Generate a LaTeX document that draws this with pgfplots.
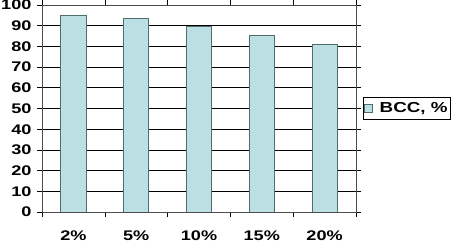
\documentclass[border=0pt]{standalone}
\usepackage{pgfplots}
\pgfplotsset{compat=1.18}
\usepackage{fontspec}
\setmainfont{Liberation Sans}
\newfontfamily\widefont[FakeStretch=1.3]{Liberation Sans}
\definecolor{barfill}{RGB}{188,223,228}
\definecolor{baredge}{RGB}{80,110,110}
\begin{document}
\begin{tikzpicture}
\useasboundingbox (0,0) rectangle (453bp,242bp);
\begin{axis}[
  at={(42bp,30bp)}, anchor=south west,
  scale only axis, width=314bp, height=207bp,
  xmin=-0.5, xmax=4.5, ymin=0, ymax=100,
  xtick={0,1,2,3,4},
  xticklabels={2\%,5\%,10\%,15\%,20\%},
  minor xtick={-0.5,0.5,1.5,2.5,3.5,4.5},
  ytick={0,10,...,100},
  ymajorgrids, grid style={black, line width=0.6pt},
  major x tick style={draw=none},
  minor tick length=5bp,
  major tick length=5bp,
  tick align=outside,
  x tick style={black, line width=0.6pt},
  y tick style={black, line width=0.6pt},
  axis line style={black!70, line width=0.6pt},
  tick label style={font=\widefont\fontsize{14}{15}\selectfont\bfseries},
  /pgf/number format/assume math mode=true,
  xticklabel style={yshift=-10bp},
  yticklabel style={xshift=-2bp},
  legend style={at={(1.022,0.502)}, anchor=west, draw=black, line width=0.6pt,
    font=\widefont\fontsize{14.5}{15}\selectfont\bfseries, inner xsep=1bp, inner ysep=3bp},
  legend image code/.code={\draw[fill=barfill,draw=baredge,line width=0.5pt] (2bp,-4bp) rectangle (10bp,4bp);},
]
\addplot[ybar, bar width=0.4, fill=barfill, draw=baredge, line width=0.7pt]
  coordinates {(0,94.8) (1,93.4) (2,89.5) (3,85.4) (4,81.0)};
\addlegendentry{\hspace{5bp}BCC, \%\hspace{2bp}}
\end{axis}
\end{tikzpicture}
\end{document}
